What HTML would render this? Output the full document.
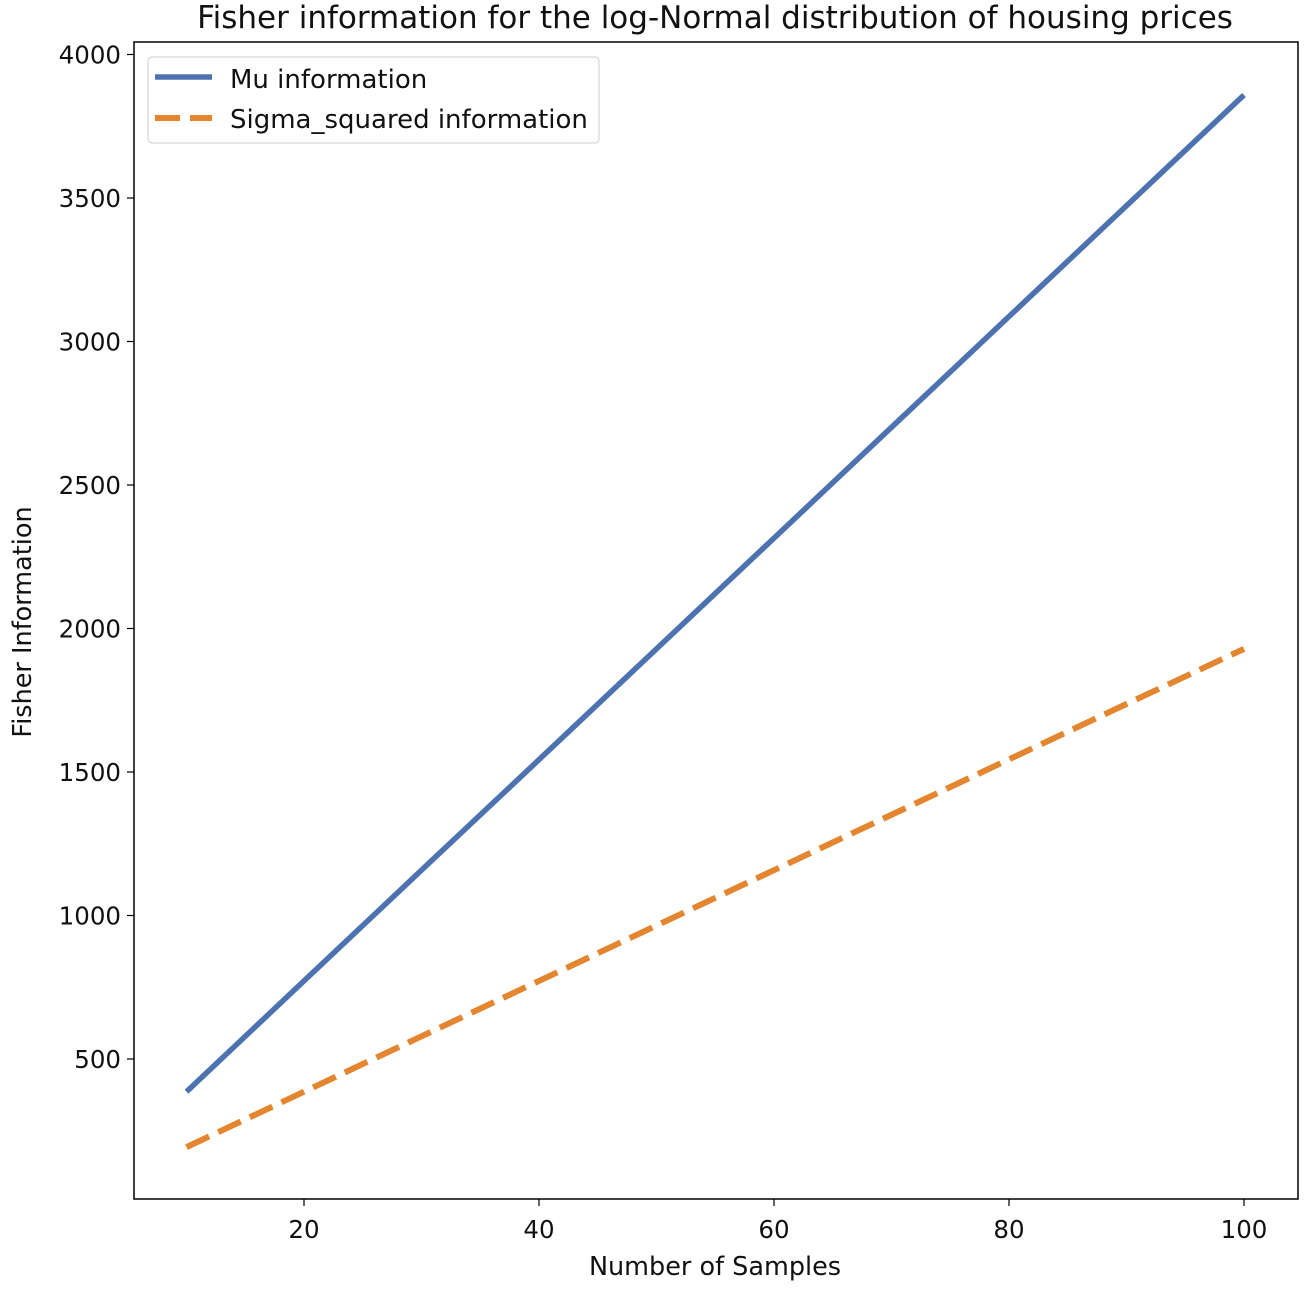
<!DOCTYPE html>
<html><head><meta charset="utf-8"><style>
body{margin:0;background:#fff;}
svg{display:block;font-family:"DejaVu Sans","Liberation Sans",sans-serif;}
</style></head><body>
<svg id="chart" width="1315" height="1292">
<text x="715" y="28" text-anchor="middle" font-size="31" fill="#111">Fisher information for the log-Normal distribution of housing prices</text>
<g id="axes"></g>
<g id="series"></g>
<rect x="134" y="42" width="1164" height="1157" fill="none" stroke="#000" stroke-width="1.5"/>
<text x="715" y="1275" text-anchor="middle" font-size="25.5" fill="#111">Number of Samples</text>
<text transform="translate(31,622) rotate(-90)" text-anchor="middle" font-size="25.5" fill="#111">Fisher Information</text>
<g>
<rect x="148" y="57" width="451" height="86" rx="4" fill="#fff" fill-opacity="0.8" stroke="#ccc"/>
<line x1="155" y1="77" x2="212" y2="77" stroke="#4c72b0" stroke-width="5.5"/>
<text x="230" y="88" font-size="26" fill="#111">Mu information</text>
<line x1="155" y1="118" x2="212" y2="118" stroke="#e3862f" stroke-width="6" stroke-dasharray="25,10"/>
<text x="230" y="128" font-size="26" fill="#111">Sigma_squared information</text>
</g>
</svg>
<script>
const samples=[10,20,30,40,50,60,70,80,90,100];
const muInfo=[386,772,1158,1543,1929,2315,2701,3087,3473,3859];
const sigmaInfo=[193,386,579,772,965,1158,1351,1544,1737,1929];
const xTicks=[20,40,60,80,100];
const yTicks=[500,1000,1500,2000,2500,3000,3500,4000];
const NS="http://www.w3.org/2000/svg";
const xs=v=>69+v*11.75;
const ys=v=>1202.5-v*0.287;
const axes=document.getElementById('axes'),series=document.getElementById('series');
function mk(t,a,p){const e=document.createElementNS(NS,t);for(const k in a)e.setAttribute(k,a[k]);p.appendChild(e);return e;}
xTicks.forEach(v=>{
 const l=mk('line',{x1:xs(v),x2:xs(v),y1:1199,y2:1206,stroke:'#000','stroke-width':1.2},axes);
 
 
 const t=mk('text',{x:xs(v),y:1238,'text-anchor':'middle','font-size':24.5,fill:'#111'},axes);
 t.textContent=v;
 
 
});
yTicks.forEach(v=>{
 const l=mk('line',{x1:127,x2:134,y1:ys(v),y2:ys(v),stroke:'#000','stroke-width':1.2},axes);
 
 
 const t=mk('text',{x:121,y:ys(v)+9,'text-anchor':'end','font-size':24.5,fill:'#111'},axes);
 t.textContent=v;
 
 
});
const mu=mk('polyline',{points:samples.map((s,i)=>xs(s)+','+ys(muInfo[i])).join(' '),fill:'none',stroke:'#4c72b0','stroke-width':5.5},series);


const sg=mk('polyline',{points:samples.map((s,i)=>xs(s)+','+ys(sigmaInfo[i])).join(' '),fill:'none',stroke:'#e3862f','stroke-width':6,'stroke-dasharray':'25,10'},series);


</script>
</body></html>
